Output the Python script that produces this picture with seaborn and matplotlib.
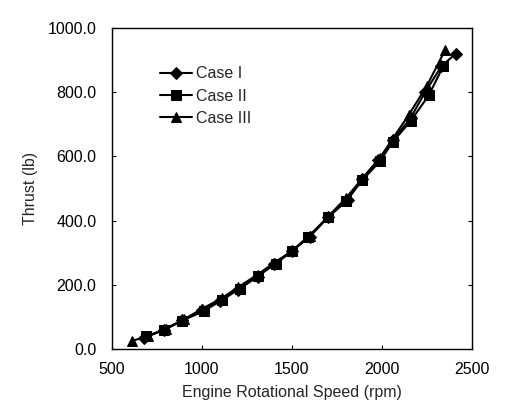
import matplotlib
matplotlib.use("Agg")
import matplotlib.pyplot as plt
import seaborn as sns
import pandas as pd

case1_rpm = [680, 790, 890, 1000, 1100, 1200, 1310, 1400, 1500, 1600, 1700, 1810, 1890, 1980, 2060, 2160, 2240, 2330, 2410]
case1_thrust = [35, 60, 90, 120, 150, 185, 225, 265, 305, 350, 410, 465, 530, 590, 650, 720, 800, 880, 920]
case2_rpm = [690, 790, 890, 1010, 1110, 1210, 1310, 1410, 1500, 1590, 1700, 1800, 1890, 1990, 2060, 2160, 2260, 2340]
case2_thrust = [40, 60, 88, 118, 152, 188, 228, 265, 305, 350, 410, 460, 525, 585, 645, 710, 790, 880]
case3_rpm = [610, 700, 800, 900, 1000, 1110, 1200, 1310, 1400, 1500, 1600, 1700, 1800, 1890, 1990, 2060, 2150, 2250, 2350]
case3_thrust = [25, 40, 62, 92, 125, 158, 192, 232, 268, 305, 352, 412, 470, 530, 595, 655, 730, 820, 930]
labels = ["Case I", "Case II", "Case III"]
yticks = [0, 200, 400, 600, 800, 1000]
xticks = [500, 1000, 1500, 2000, 2500]

df = pd.concat([
    pd.DataFrame({"rpm": case1_rpm, "thrust": case1_thrust, "case": labels[0]}),
    pd.DataFrame({"rpm": case2_rpm, "thrust": case2_thrust, "case": labels[1]}),
    pd.DataFrame({"rpm": case3_rpm, "thrust": case3_thrust, "case": labels[2]}),
])

sns.set_style("white")
plt.rcParams['font.family'] = ['Liberation Sans', 'DejaVu Sans']

fig = plt.figure(figsize=(5.13, 4.16), dpi=100)
ax = fig.add_axes([0.218, 0.161, 0.702, 0.772])

sns.lineplot(data=df, x="rpm", y="thrust", hue="case", style="case",
             palette=["black"] * 3, markers=["D", "s", "^"], dashes=False,
             markersize=6.5, linewidth=1.5, markeredgecolor="black", sort=False,
             estimator=None, ax=ax)

ax.set_xlim(500, 2500)
ax.set_ylim(0, 1000)
ax.set_xticks(xticks)
ax.set_yticks(yticks)
ax.set_yticklabels([f"{v:.1f}" for v in yticks])
ax.tick_params(direction="in", length=3, labelsize=11.5, colors="black", right=True, bottom=True, left=True)
ax.tick_params(axis="y", pad=11)
ax.tick_params(axis="x", pad=9)
ax.set_xlabel("Engine Rotational Speed (rpm)", fontsize=11.5, labelpad=6)
ax.set_ylabel("Thrust (lb)", fontsize=11.5, labelpad=7)
for s in ax.spines.values():
    s.set_color("black")
    s.set_linewidth(1.0)

leg = ax.legend(loc="upper left", bbox_to_anchor=(0.115, 0.90), frameon=False,
                fontsize=11.5, handlelength=2.0, handletextpad=0.3, labelspacing=0.45,
                borderaxespad=0.0)

fig.savefig("out.png", dpi=100)
